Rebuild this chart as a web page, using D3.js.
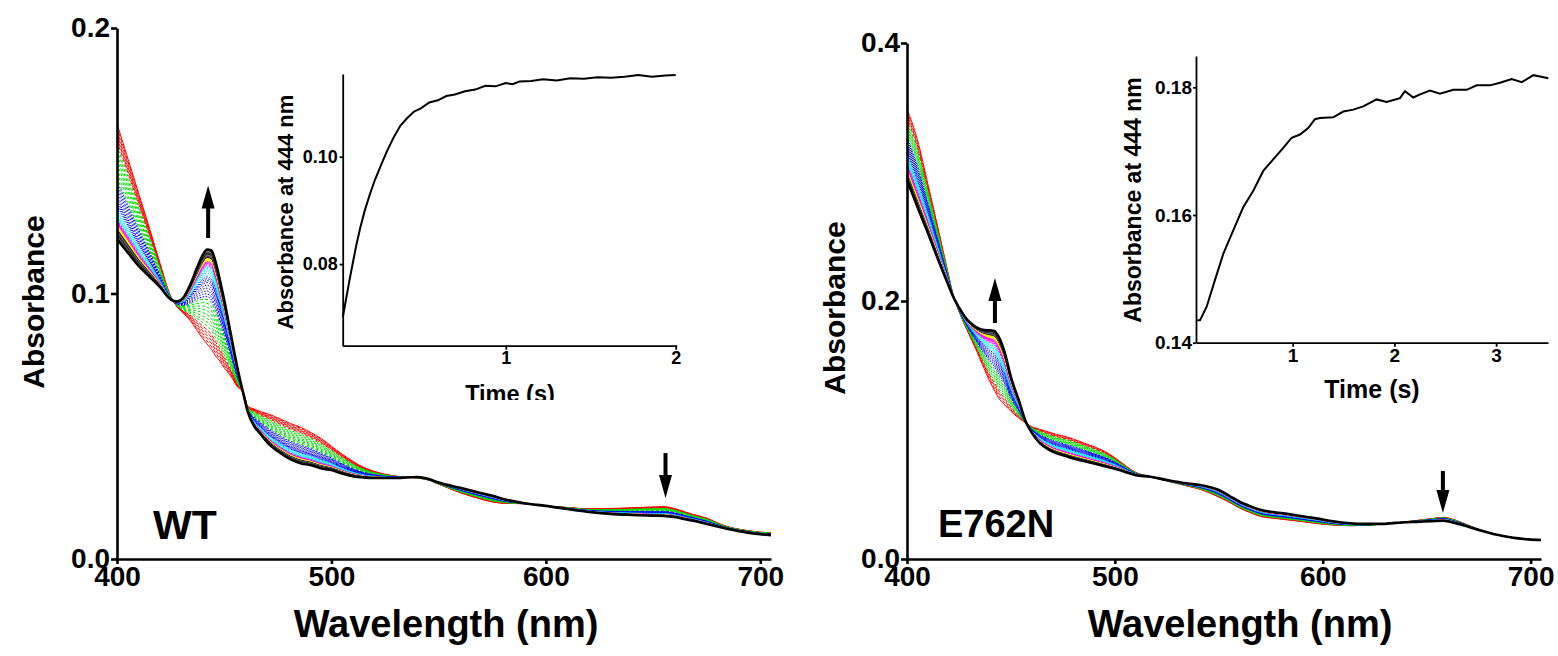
<!DOCTYPE html>
<html><head><meta charset="utf-8">
<script src="https://cdn.jsdelivr.net/npm/d3@7"></script>
<style>
body{margin:0;background:#fff}
svg{display:block}
text{font-family:"Liberation Sans",Arial,Helvetica,sans-serif;font-weight:bold;fill:#000}
</style>
</head><body>
<svg id="chart" width="1558" height="656"></svg>
<script>
// ---------------- DATA ----------------
// WT panel: spectra (first scan = red, final scan = black)
const wtWavelength = [400,405,410,415,420,425,428,431,434,437,440,442,444,446,448,450,453,456,459,461,464,467,471,476,481,486,490,495,500,505,510,515,520,530,540,545,550,560,570,575,580,590,600,610,620,630,640,650,655,660,665,670,675,680,685,690,695,700,705];
const wtFirstScan = [.1640,.1510,.1380,.1250,.1115,.0990,.0950,.0925,.0900,.0865,.0830,.0810,.0790,.0765,.0745,.0720,.0690,.0650,.0625,.0575,.0565,.0555,.0545,.0528,.0510,.0495,.0478,.0455,.0425,.0395,.0368,.0345,.0330,.0312,.0305,.0298,.0282,.0250,.0225,.0215,.0210,.0208,.0200,.0194,.0189,.0190,.0193,.0196,.0197,.0190,.0177,.0165,.0154,.0136,.0121,.0112,.0106,.0101,.0099];
const wtLastScan = [.1205,.1155,.1105,.1065,.1025,.0978,.0970,.0985,.1030,.1090,.1145,.1166,.1162,.1118,.1050,.0975,.0850,.0725,.0620,.0554,.0500,.0470,.0432,.0400,.0375,.0360,.0354,.0342,.0335,.0322,.0312,.0307,.0305,.0305,.0309,.0302,.0288,.0268,.0248,.0238,.0226,.0210,.0200,.0188,.0177,.0170,.0166,.0163,.0162,.0158,.0150,.0142,.0132,.0122,.0113,.0105,.0098,.0093,.0090];
// fractional progress of each recorded scan (red ... black)
const wtScanProgress = [0,.03,.06,.09,.12,.15, .19,.23,.27,.31,.35,.39,.43,.47, .50,.53,.56,.59,.62,.65,.67,.69,.71, .73,.75,.77,.785,.80,.81,.82, .83,.84,.85,.86,.87, .88,.89,.90,.905,.91, .915,.92,.925,.93,.935,.94,.945,.95,.955,.96,.965,.97,.975,.98,.985,.99, 1];
const wtGroupSizes = [6,8,9,7,5,5,16,1];
// WT inset: absorbance at 444 nm vs time
const wtTime = [0.041,0.06,0.08,0.10,0.12,0.143,0.17,0.20,0.23,0.26,0.30,0.34,0.38,0.42,0.46,0.50,0.55,0.60,0.65,0.70,0.76,0.82,0.88,0.94,1.00,1.04,1.08,1.15,1.22,1.30,1.38,1.46,1.54,1.62,1.70,1.78,1.86,1.94,2.00];
const wtA444 = [.0702,.0735,.0770,.0803,.0835,.0867,.0900,.0930,.0957,.0980,.1010,.1036,.1058,.1072,.1084,.1090,.1101,.1105,.1113,.1116,.1122,.1125,.1132,.1131,.1137,.1135,.1140,.1141,.1144,.1142,.1146,.1145,.1148,.1147,.1149,.1152,.1149,.1151,.1152];

// E762N panel
const mutWavelength = [400,405,410,415,420,422,425,429,433,437,440,442,444,447,450,452,454,457,460,464,468,472,476,480,485,490,495,500,505,510,517,525,535,541,550,555,560,565,570,575,581,590,597,605,613,620,628,635,645,652,658,664,670,676,682,688,693,699,705];
const mutFirstScan = [.349,.325,.291,.256,.220,.206,.192,.177,.163,.148,.137,.131,.125,.1195,.1145,.1115,.109,.1055,.1025,.1005,.0985,.0965,.0950,.0930,.0900,.0870,.0835,.0785,.0725,.0672,.0638,.0605,.0565,.0540,.0480,.0440,.0395,.0360,.0330,.0318,.0307,.0290,.0275,.0263,.0258,.0260,.0270,.0280,.0298,.0312,.0323,.0300,.0262,.0225,.0195,.0174,.0161,.0151,.0146];
const mutLastScan = [.294,.273,.253,.232,.212,.204,.195,.1853,.1800,.1775,.1772,.1768,.1725,.1600,.1410,.1310,.1220,.1070,.0980,.0897,.0850,.0820,.0800,.0780,.0760,.0740,.0720,.0700,.0675,.0650,.0638,.0612,.0585,.0574,.0535,.0490,.0444,.0410,.0382,.0366,.0354,.0332,.0315,.0292,.0277,.0272,.0272,.0280,.0288,.0293,.0297,.0278,.0250,.0220,.0194,.0175,.0162,.0152,.0147];
const mutScanProgress = [0,.04,.08,.12, .16,.20,.24,.28,.32,.36, .40,.43,.46,.49,.52,.55,.58,.61, .63,.65,.67,.69,.71,.73,.75, .77,.785,.80,.815,.83,.845, .86,.87,.88,.89,.90,.91, .915,.92,.925,.93,.935,.94,.945,.95,.955,.96,.963,.966,.97,.973,.976,.98,.984,.988,.992,.996, 1];
const mutGroupSizes = [4,6,8,7,6,6,20,1];
const mutTime = [0.062,0.089,0.154,0.236,0.318,0.416,0.514,0.613,0.711,0.809,0.908,0.990,1.072,1.153,1.219,1.268,1.399,1.498,1.596,1.694,1.826,1.924,2.055,2.104,2.186,2.252,2.350,2.448,2.579,2.711,2.809,2.940,3.038,3.153,3.252,3.366,3.432,3.513];
const mutA444 = [.1435,.1435,.1456,.1498,.1539,.1576,.1612,.1638,.1669,.1687,.1705,.1721,.1726,.1736,.1750,.1752,.1753,.1762,.1765,.1770,.1781,.1777,.1783,.1794,.1784,.1789,.1795,.1790,.1796,.1796,.1803,.1803,.1807,.1813,.1808,.1819,.1817,.1814];

// tick labels
const wlTicks = [400,500,600,700];
const wtAbsTicks = [0.0,0.1,0.2];
const mutAbsTicks = [0.0,0.2,0.4];
const wtInsetYTicks = [0.08,0.10];
const wtInsetXTicks = [1,2];
const mutInsetYTicks = [0.14,0.16,0.18];
const mutInsetXTicks = [1,2,3];

// ---------------- STYLES ----------------
const groupColors = ["#ff0000","#00e000","#0000ff","#00e8f0","#ff00ff","#f0f000",null,"#000000"];
const groupDash = ["4,2","3,2","1.5,1.5","1.5,1.5","2,1.5",null,null,null];
const darkCycle = ["#000080","#800000","#006400","#800080","#808000","#008080","#808080","#404040"];

const svg = d3.select("#chart");
svg.append("rect").attr("width",1558).attr("height",656).attr("fill","#fff");

function styleAxis(g, size, sw){
  g.select(".domain").attr("stroke","#000").attr("stroke-width",sw);
  g.selectAll(".tick line").attr("stroke","#000").attr("stroke-width",sw);
  g.selectAll(".tick text").attr("font-size",size).attr("font-family",'"Liberation Sans",Arial,sans-serif').attr("font-weight","bold").attr("fill","#000");
}

function drawPanel(o){
  const x = d3.scaleLinear().domain([400,705]).range(o.xr);
  const y = d3.scaleLinear().domain(o.yd).range([559,o.ytop]);
  const g = svg.append("g");
  const line = d3.line().x(d=>x(d[0])).y(d=>y(d[1])).curve(d3.curveMonotoneX);
  let idx = 0;
  const traces = [];
  o.groups.forEach((n,gi)=>{
    for(let k=0;k<n;k++){
      const p = o.progress[idx];
      const pts = o.wl.map((w,i)=>[w, o.first[i] + p*(o.last[i]-o.first[i])]);
      let color = groupColors[gi];
      if(color===null) color = darkCycle[k % darkCycle.length];
      let dash = groupDash[gi];
      if(gi===0 && k===0) dash = null;
      if(gi===4 && k>=3) dash = null;
      const isLast = gi===o.groups.length-1;
      traces.push({pts,color,dash,w: isLast?2.6:1});
      idx++;
    }
  });
  g.selectAll("path.trace").data(traces).join("path")
    .attr("class","trace")
    .attr("d",d=>line(d.pts))
    .attr("fill","none")
    .attr("stroke",d=>d.color)
    .attr("stroke-width",d=>d.w)
    .attr("stroke-dasharray",d=>d.dash);
  const ax = g.append("g").attr("transform",`translate(0,559)`)
    .call(d3.axisBottom(x).tickValues(wlTicks).tickFormat(d3.format("d")).tickSize(5).tickSizeOuter(0).tickPadding(2));
  styleAxis(ax,28,2.6);
  const ay = g.append("g").attr("transform",`translate(${o.xr[0]},0)`)
    .call(d3.axisLeft(y).tickValues(o.yticks).tickFormat(d3.format(".1f")).tickSize(6).tickSizeOuter(0).tickPadding(1));
  styleAxis(ay,28,2.6);
  g.append("text").attr("x",o.xlabX).attr("y",637).attr("text-anchor","middle").attr("font-size",38).text("Wavelength (nm)");
  g.append("text").attr("transform",`translate(${o.ylabX},${o.ylabY}) rotate(-90)`).attr("text-anchor","middle").attr("font-size",30).text("Absorbance");
  g.append("text").attr("x",o.nameX).attr("y",o.nameY).attr("font-size",o.nameSize).text(o.name);
  function arrow(wl, aTail, aTip){
    const px = x(wl), yt = y(aTail), yp = y(aTip);
    const dir = yp < yt ? -1 : 1;
    const headLen = 23, hw = 6.5;
    const yb = yp - dir*headLen;
    g.append("line").attr("x1",px).attr("x2",px).attr("y1",yt).attr("y2",yb+dir*1).attr("stroke","#000").attr("stroke-width",4);
    g.append("path").attr("d",`M${px-hw},${yb}L${px+hw},${yb}L${px},${yp}Z`).attr("fill","#000");
  }
  arrow(o.upArrow[0],o.upArrow[1],o.upArrow[2]);
  arrow(o.downArrow[0],o.downArrow[1],o.downArrow[2]);
}

function drawInset(o){
  const x = d3.scaleLinear().domain(o.xd).range(o.xr);
  const y = d3.scaleLinear().domain(o.yd).range(o.yr);
  const g = svg.append("g");
  g.append("path")
    .attr("d",d3.line().x((d,i)=>x(o.t[i])).y(d=>y(d))(o.a))
    .attr("fill","none").attr("stroke","#000").attr("stroke-width",2);
  const ax = g.append("g").attr("transform",`translate(0,${o.yr[0]})`)
    .call(d3.axisBottom(x).tickValues(o.xticks).tickFormat(d3.format("d")).tickSize(4).tickSizeOuter(0).tickPadding(2));
  styleAxis(ax,o.tickSize,1.8);
  const ay = g.append("g").attr("transform",`translate(${o.xr[0]},0)`)
    .call(d3.axisLeft(y).tickValues(o.yticks).tickFormat(d3.format(".2f")).tickSize(3).tickSizeOuter(0).tickPadding(o.ypad));
  styleAxis(ay,o.tickSize,1.8);
  const tl = g.append("text").attr("x",o.timeX).attr("y",o.timeY).attr("text-anchor","middle").attr("font-size",o.timeSize).text("Time (s)");
  if(o.clipY){
    const cp = svg.append("clipPath").attr("id","clipTime");
    cp.append("rect").attr("x",0).attr("y",0).attr("width",1558).attr("height",o.clipY);
    tl.attr("clip-path","url(#clipTime)");
  }
  g.append("text").attr("transform",`translate(${o.labX},${o.labY}) rotate(-90)`).attr("text-anchor","middle").attr("font-size",o.labSize).text("Absorbance at 444 nm");
}

drawPanel({xr:[117,771], yd:[0,0.2], ytop:28, wl:wtWavelength, first:wtFirstScan, last:wtLastScan,
  progress:wtScanProgress, groups:wtGroupSizes, yticks:wtAbsTicks,
  xlabX:446, ylabX:44, ylabY:302, name:"WT", nameX:153, nameY:539, nameSize:41,
  upArrow:[442.5,0.1209,0.1407], downArrow:[655.8,0.0399,0.0230]});
drawPanel({xr:[907,1541], yd:[0,0.4], ytop:43, wl:mutWavelength, first:mutFirstScan, last:mutLastScan,
  progress:mutScanProgress, groups:mutGroupSizes, yticks:mutAbsTicks,
  xlabX:1240, ylabX:845, ylabY:308, name:"E762N", nameX:938, nameY:537, nameSize:38,
  upArrow:[442.3,0.1829,0.2178], downArrow:[657.8,0.0682,0.0357]});

drawInset({xd:[0.04,2.006], xr:[342.7,676.7], yd:[0.0648,0.1154], yr:[345.7,74], t:wtTime, a:wtA444,
  xticks:wtInsetXTicks, yticks:wtInsetYTicks, tickSize:18, ypad:2,
  timeX:510, timeY:402, timeSize:23.5, clipY:400, labX:293, labY:212, labSize:22});
drawInset({xd:[0.05,3.51], xr:[1196,1548], yd:[0.14,0.1849], yr:[342.7,56], t:mutTime, a:mutA444,
  xticks:mutInsetXTicks, yticks:mutInsetYTicks, tickSize:19, ypad:1,
  timeX:1372, timeY:398, timeSize:25, clipY:null, labX:1141, labY:200, labSize:23});
</script>
</body></html>
